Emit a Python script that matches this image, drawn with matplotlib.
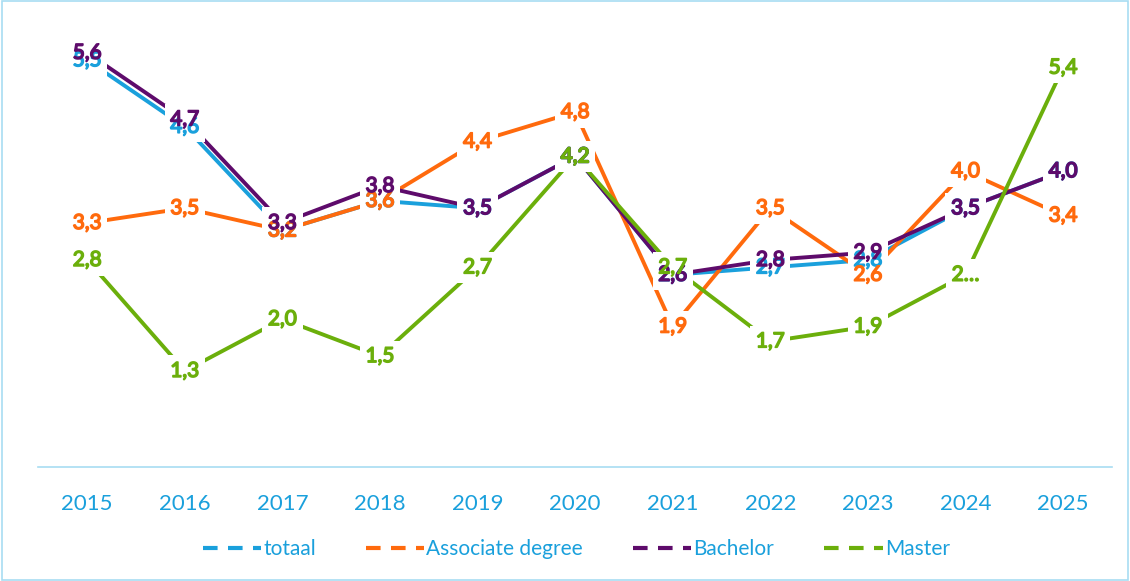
import matplotlib.pyplot as plt
import matplotlib.patheffects as pe
from matplotlib.lines import Line2D
from matplotlib.patches import Rectangle

plt.rcParams['font.family'] = ['Lato', 'DejaVu Sans']

years = ['2015', '2016', '2017', '2018', '2019', '2020', '2021', '2022', '2023', '2024', '2025']
totaal = [5.5, 4.6, 3.2, 3.6, 3.5, 4.2, 2.6, 2.7, 2.8, 3.5, 4.0]
associate = [3.3, 3.5, 3.2, 3.6, 4.4, 4.8, 1.9, 3.5, 2.6, 4.0, 3.4]
bachelor = [5.6, 4.7, 3.3, 3.8, 3.5, 4.2, 2.6, 2.8, 2.9, 3.5, 4.0]
master = [2.8, 1.3, 2.0, 1.5, 2.7, 4.2, 2.7, 1.7, 1.9, 2.6, 5.4]
master_labels = ['2,8', '1,3', '2,0', '1,5', '2,7', '4,2', '2,7', '1,7', '1,9', '2…', '5,4']

series = [
    ('totaal', totaal, '#1AA0DC', None),
    ('Associate degree', associate, '#FF6A0D', None),
    ('Bachelor', bachelor, '#5E0B6B', None),
    ('Master', master, '#6BAF0B', master_labels),
]

fig = plt.figure(figsize=(11.3, 5.81), dpi=100)
ax = fig.add_axes([0.034, 0.196, 0.95, 0.764])
x = list(range(len(years)))

for name, vals, color, labels in series:
    ax.plot(x, vals, color=color, lw=2.8, zorder=2, solid_capstyle='butt')

# white boxes behind labels to break the lines
for name, vals, color, labels in series:
    for i, v in enumerate(vals):
        txt = labels[i] if labels else f'{v:.1f}'.replace('.', ',')
        ax.text(i, v, txt, color='none', fontsize=15,
                ha='center', va='center', zorder=3,
                bbox=dict(facecolor='white', edgecolor='none', pad=4))
for name, vals, color, labels in series:
    for i, v in enumerate(vals):
        txt = labels[i] if labels else f'{v:.1f}'.replace('.', ',')
        ax.text(i, v, txt, color=color, fontsize=15,
                ha='center', va='center', zorder=4,
                path_effects=[pe.withStroke(linewidth=1.1, foreground=color)])

ax.set_xlim(-0.5, len(years) - 0.5)
ax.set_ylim(0, 6)
ax.set_xticks(x)
ax.set_xticklabels(years, color='#1AA0DC', fontsize=16)
ax.tick_params(axis='x', length=0, pad=19)
ax.set_yticks([])
for s in ['top', 'left', 'right']:
    ax.spines[s].set_visible(False)
ax.spines['bottom'].set_color('#A8DDF2')
ax.spines['bottom'].set_linewidth(1.2)

handles = [Line2D([0], [0], color=c, lw=3, dashes=(3.5, 2.5)) for _, _, c, _ in series]
leg = fig.legend(handles, [s[0] for s in series], loc='center', bbox_to_anchor=(0.51, 0.055),
                 ncol=4, frameon=False, fontsize=15, handlelength=2.8, columnspacing=2.4,
                 handletextpad=0.1)
for t in leg.get_texts():
    t.set_color('#1AA0DC')

fig.patches.append(Rectangle((0.002, 0.002), 0.996, 0.996, transform=fig.transFigure,
                             fill=False, edgecolor='#A8DDF2', lw=1.2))

fig.savefig('out.png', dpi=100)
